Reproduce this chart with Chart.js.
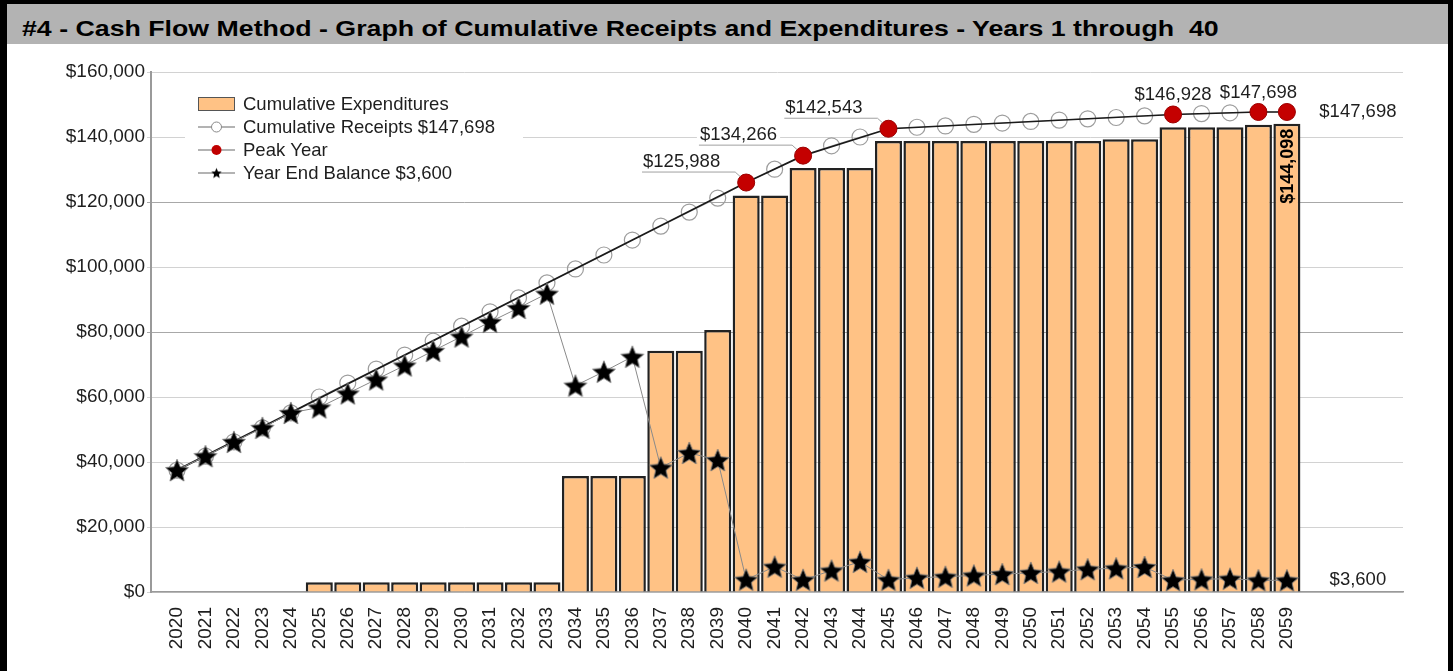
<!DOCTYPE html>
<html>
<head>
<meta charset="utf-8">
<script src="https://cdn.jsdelivr.net/npm/chart.js@4.4.0/dist/chart.umd.min.js"></script>
<style>
body { margin: 0; background: #fff; }
#frame { position: absolute; left: 0; top: 0; width: 1453px; height: 671px; box-sizing: border-box;
  border-left: 7px solid #000; border-top: 4px solid #000; border-right: 5px solid #000; overflow: hidden; }
#title { height: 40px; background: #b3b3b3; font: bold 22px "Liberation Sans", Arial, sans-serif;
  line-height: 40px; padding-left: 15px; color: #000; white-space: pre; }
#title span { display: inline-block; position: relative; top: 5px; transform: scaleX(1.215); transform-origin: 0 0; }
#wrap { position: absolute; left: 0; top: 40px; width: 1441px; height: 627px; }
</style>
</head>
<body>
<div id="frame">
  <div id="title"><span>#4 - Cash Flow Method - Graph of Cumulative Receipts and Expenditures - Years 1 through  40</span></div>
  <div id="wrap"><canvas id="chart" width="1441" height="627"></canvas></div>
</div>
<script>
const years = [2020, 2021, 2022, 2023, 2024, 2025, 2026, 2027, 2028, 2029,
  2030, 2031, 2032, 2033, 2034, 2035, 2036, 2037, 2038, 2039,
  2040, 2041, 2042, 2043, 2044, 2045, 2046, 2047, 2048, 2049,
  2050, 2051, 2052, 2053, 2054, 2055, 2056, 2057, 2058, 2059];

// cumulative expenditures (bars)
const expenditures = [0, 0, 0, 0, 0,
  3000, 3000, 3000, 3000, 3000, 3000, 3000, 3000, 3000,
  35700, 35700, 35700,
  74200, 74200, 80600,
  122000, 122000, 130500, 130500, 130500,
  138800, 138800, 138800, 138800, 138800, 138800, 138800, 138800, 139300, 139300,
  143000, 143000, 143000, 143800, 144098];

// cumulative receipts (hollow circles)
const receipts = [37500, 41800, 46200, 50500, 55100,
  60000, 64300, 68600, 72900, 77200, 81800, 86200, 90500, 95100,
  99400, 103700, 108300, 112600, 116900, 121200,
  125988, 130100, 134266, 137300, 140000,
  142543, 143000, 143400, 143900, 144300, 144800, 145200, 145600, 146000, 146500,
  146928, 147200, 147450, 147698, 147698];

// year end balance (stars)
const balance = [37500, 41800, 46200, 50500, 55100,
  56800, 61100, 65400, 69700, 74200, 78600, 83100, 87400, 91800,
  63500, 67800, 72400, 38300, 42800, 40600,
  3800, 7800, 3750, 6600, 9300,
  3750, 4400, 4700, 5100, 5500, 5900, 6300, 7000, 7300, 7700,
  3650, 3900, 4100, 3600, 3600];

// peak years, the black line starts at the first year
const trendStart = 37500;
const peakYears = [2040, 2042, 2045, 2055, 2058, 2059];
const peakValues = [125988, 134266, 142543, 146928, 147698, 147698];

const yTicks = [0, 20000, 40000, 60000, 80000, 100000, 120000, 140000, 160000];

const FONT = '"Liberation Sans", Arial, sans-serif';
const ORANGE = '#ffc285';
const money = v => '$' + Number(v).toLocaleString('en-US');

Chart.defaults.font.family = FONT;
Chart.defaults.color = '#1e1e1e';

function makeStar(r, stroke) {
  const c = document.createElement('canvas');
  const s = Math.ceil(r * 2 + 4);
  c.width = s; c.height = s;
  const g = c.getContext('2d');
  g.translate(s / 2, s / 2 + r * 0.1);
  g.beginPath();
  for (let i = 0; i < 10; i++) {
    const rr = i % 2 === 0 ? r : r * 0.45;
    const a = -Math.PI / 2 + i * Math.PI / 5;
    g.lineTo(rr * Math.cos(a), rr * Math.sin(a));
  }
  g.closePath();
  g.fillStyle = '#000';
  g.fill();
  if (stroke) {
    g.strokeStyle = 'rgba(120,120,120,0.9)';
    g.lineWidth = 1;
    g.stroke();
  }
  return c;
}
const bigStar = makeStar(12, true);
const smallStar = makeStar(5.5, false);

const legendPlugin = {
  id: 'insideLegend',
  afterDraw(chart) {
    const { ctx, chartArea } = chart;
    const left = chartArea.left + 34;
    const top = chartArea.top + 16;
    ctx.save();
    ctx.fillStyle = '#fff';
    ctx.fillRect(left, top, 338, 98);
    const mx0 = left + 13, mx1 = left + 50, mc = (mx0 + mx1) / 2, tx = left + 58;
    const rows = ['Cumulative Expenditures', 'Cumulative Receipts ' + money(receipts[receipts.length - 1]),
      'Peak Year', 'Year End Balance ' + money(balance[balance.length - 1])];
    rows.forEach((txt, i) => {
      const cy = chartArea.top + 32 + i * 23;
      if (i === 0) {
        ctx.fillStyle = ORANGE;
        ctx.fillRect(mx0, cy - 7, mx1 - mx0, 14);
        ctx.strokeStyle = '#555';
        ctx.lineWidth = 1;
        ctx.strokeRect(mx0 + 0.5, cy - 6.5, mx1 - mx0 - 1, 13);
      } else {
        ctx.strokeStyle = '#9a9a9a';
        ctx.lineWidth = 1.5;
        ctx.beginPath();
        ctx.moveTo(mx0, cy); ctx.lineTo(mx1, cy);
        ctx.stroke();
        if (i === 1) {
          ctx.fillStyle = '#fff';
          ctx.strokeStyle = '#8a8a8a';
          ctx.lineWidth = 1;
          ctx.beginPath(); ctx.arc(mc, cy, 5, 0, Math.PI * 2); ctx.fill(); ctx.stroke();
        } else if (i === 2) {
          ctx.fillStyle = '#c00000';
          ctx.beginPath(); ctx.arc(mc, cy, 5, 0, Math.PI * 2); ctx.fill();
        } else {
          ctx.drawImage(smallStar, mc - smallStar.width / 2, cy - smallStar.height / 2);
        }
      }
      ctx.fillStyle = '#1e1e1e';
      ctx.font = '18.5px ' + FONT;
      ctx.textAlign = 'left';
      ctx.textBaseline = 'middle';
      ctx.fillText(txt, tx, cy + 1);
    });
    ctx.restore();
  }
};

const labelPlugin = {
  id: 'valueLabels',
  afterDatasetsDraw(chart) {
    const { ctx, scales } = chart;
    const x = scales.x, y = scales.y;
    ctx.save();
    ctx.font = '18.5px ' + FONT;
    peakYears.forEach((yr, i) => {
      const px = x.getPixelForValue(yr), py = y.getPixelForValue(peakValues[i]);
      const txt = money(peakValues[i]);
      const w = ctx.measureText(txt).width;
      ctx.textBaseline = 'alphabetic';
      if (i === peakYears.length - 1) {
        ctx.fillStyle = '#1e1e1e';
        ctx.textAlign = 'center';
        ctx.textBaseline = 'middle';
        ctx.fillText(txt, px + 71, py);
      } else if (i < 3) {
        const right = px - 26, base = py - 16;
        ctx.fillStyle = '#fff';
        ctx.fillRect(right - w - 3, base - 15, w + 6, 19);
        ctx.strokeStyle = '#a0a0a0';
        ctx.lineWidth = 1;
        ctx.beginPath();
        ctx.moveTo(right - w - 1, py - 10.5);
        ctx.lineTo(px - 11, py - 10.5);
        ctx.lineTo(px - 6, py - 6);
        ctx.stroke();
        ctx.fillStyle = '#1e1e1e';
        ctx.textAlign = 'right';
        ctx.fillText(txt, right, base);
      } else {
        ctx.fillStyle = '#1e1e1e';
        ctx.textAlign = 'center';
        ctx.fillText(txt, px, py - 14);
      }
    });
    // year end balance at the last year
    const last = years.length - 1;
    const lx = x.getPixelForValue(years[last]);
    ctx.fillStyle = '#1e1e1e';
    ctx.textAlign = 'center';
    ctx.textBaseline = 'middle';
    ctx.fillText(money(balance[last]), lx + 71, y.getPixelForValue(balance[last]));
    // vertical value in the last bar
    ctx.translate(lx, y.getPixelForValue(expenditures[last]) + 5);
    ctx.rotate(-Math.PI / 2);
    ctx.font = 'bold 18px ' + FONT;
    ctx.textAlign = 'right';
    ctx.fillStyle = '#000';
    ctx.fillText(money(expenditures[last]), 0, 1);
    ctx.restore();
  }
};

new Chart(document.getElementById('chart'), {
  type: 'bar',
  data: {
    datasets: [
      {
        type: 'line',
        label: 'Year End Balance',
        order: 1,
        data: years.map((yr, i) => ({ x: yr, y: balance[i] })),
        borderColor: '#8a8a8a',
        borderWidth: 1,
        pointStyle: bigStar,
        pointRadius: 12
      },
      {
        type: 'line',
        label: 'Peak Year',
        order: 2,
        data: [{ x: years[0], y: trendStart }].concat(peakYears.map((yr, i) => ({ x: yr, y: peakValues[i] }))),
        borderColor: '#1a1a1a',
        borderWidth: 1.7,
        pointRadius: c => c.dataIndex === 0 ? 0 : 8.5,
        pointBackgroundColor: '#c40000',
        pointBorderColor: '#a00000',
        pointBorderWidth: 1
      },
      {
        type: 'line',
        label: 'Cumulative Receipts',
        order: 3,
        data: years.map((yr, i) => ({ x: yr, y: receipts[i] })),
        borderColor: '#c8c8c8',
        borderWidth: 1,
        pointRadius: 8,
        pointBorderColor: '#9d9d9d',
        pointBackgroundColor: 'rgba(255,255,255,0)',
        pointBorderWidth: 1.2
      },
      {
        type: 'bar',
        label: 'Cumulative Expenditures',
        order: 4,
        data: years.map((yr, i) => ({ x: yr, y: expenditures[i] })),
        backgroundColor: ORANGE,
        borderColor: '#222',
        borderWidth: 2.5,
        barPercentage: 0.95,
        categoryPercentage: 1
      }
    ]
  },
  options: {
    responsive: false,
    animation: false,
    layout: { padding: { top: 28, right: 45, left: 0, bottom: 0 } },
    plugins: { legend: { display: false }, tooltip: { enabled: false } },
    scales: {
      x: {
        type: 'linear',
        offset: false,
        min: 2019.086,
        max: 2063.08,
        afterBuildTicks: ax => { ax.ticks = years.map(v => ({ value: v })); },
        afterFit: ax => { ax.height = 79; },
        grid: { display: false, drawTicks: false },
        border: { display: true, color: '#9a9a9a', width: 1.5 },
        ticks: {
          autoSkip: false, minRotation: 90, maxRotation: 90, padding: 15,
          color: '#1e1e1e', font: { size: 19 },
          callback: v => String(v)
        }
      },
      y: {
        min: 0,
        max: 160000,
        afterBuildTicks: ax => { ax.ticks = yTicks.map(v => ({ value: v })); },
        afterFit: ax => { ax.width = 144; },
        grid: {
          color: c => (c.tick && (c.tick.value === 80000 || c.tick.value === 120000)) ? '#a8a8a8' : '#d2d2d2',
          lineWidth: 1,
          tickLength: 4
        },
        border: { color: '#9a9a9a', width: 2 },
        ticks: { padding: 2, color: '#1e1e1e', font: { size: 19 }, callback: v => money(v) }
      }
    }
  },
  plugins: [labelPlugin, legendPlugin]
});
</script>
</body>
</html>
